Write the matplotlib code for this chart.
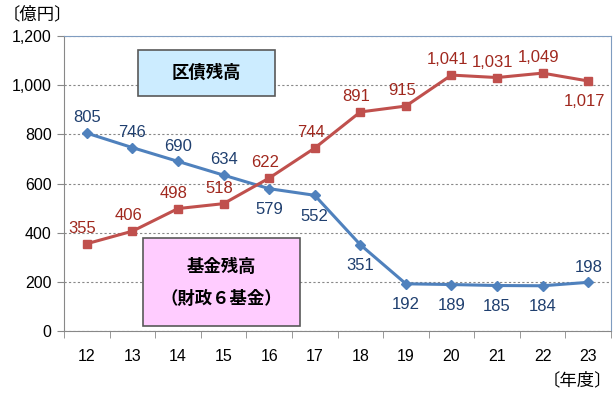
import matplotlib.pyplot as plt
from matplotlib.patches import Rectangle

plt.rcParams['font.family'] = ['Liberation Sans', 'Noto Sans CJK JP', 'DejaVu Sans']

years = ['12', '13', '14', '15', '16', '17', '18', '19', '20', '21', '22', '23']
kikin = [805, 746, 690, 634, 579, 552, 351, 192, 189, 185, 184, 198]
kusai = [355, 406, 498, 518, 622, 744, 891, 915, 1041, 1031, 1049, 1017]

# label placement: +1 above, -1 below
kikin_pos = [1, 1, 1, 1, -1, -1, -1, -1, -1, -1, -1, 1]
kusai_pos = [1, 1, 1, 1, 1, 1, 1, 1, 1, 1, 1, -1]

blue = '#4F81BD'
red = '#C0504D'
blue_txt = '#1F3F6F'
red_txt = '#A0281E'

fig = plt.figure(figsize=(6.16, 3.94), dpi=100)
ax = fig.add_axes([64 / 616, 1 - 331 / 394, 547 / 616, 295 / 394])

x = list(range(len(years)))
ax.plot(x, kikin, color=blue, lw=2.2, marker='D', ms=5, zorder=3)
ax.plot(x, kusai, color=red, lw=2.2, marker='s', ms=6, zorder=3)

for i in x:
    dy = 11 if kikin_pos[i] > 0 else -15
    ax.annotate(f'{kikin[i]:,}', (i, kikin[i]), xytext=(0, dy), textcoords='offset points',
                ha='center', va='center', fontsize=12, color=blue_txt)
    dy = 11 if kusai_pos[i] > 0 else -15
    ax.annotate(f'{kusai[i]:,}', (i, kusai[i]), xytext=(-3, dy), textcoords='offset points',
                ha='center', va='center', fontsize=12, color=red_txt)

ax.set_xlim(-0.5, len(years) - 0.5)
ax.set_ylim(0, 1200)
ax.set_yticks(range(0, 1201, 200))
ax.set_yticklabels([f'{v:,}' for v in range(0, 1201, 200)], fontsize=11.5)
ax.set_xticks(x)
ax.set_xticklabels(years, fontsize=11.5)
ax.set_xticks([i - 0.5 for i in range(len(years) + 1)], minor=True)
ax.tick_params(axis='x', which='major', length=0, pad=13)
ax.tick_params(axis='x', which='minor', length=5, color='#888888', direction='out')
ax.tick_params(axis='y', length=5, color='#888888', pad=4)
ax.grid(axis='y', color='#888888', ls=(0, (2, 2)), lw=0.8)
for s in ['left', 'bottom']:
    ax.spines[s].set_color('#888888')
for s in ['top', 'right']:
    ax.spines[s].set_color('#7F9CC0')

# boxed series titles
ax.add_patch(Rectangle((1.12, 956), 3.0, 187, facecolor='#CCECFF', edgecolor='#595959',
                       lw=1.2, zorder=4))
ax.text(2.62, 1049, '区債残高', ha='center', va='center', fontsize=12.5, fontweight='bold',
        family=['Noto Sans CJK JP'], zorder=5)
ax.add_patch(Rectangle((1.23, 20), 3.45, 358, facecolor='#FFCCFF', edgecolor='#595959',
                       lw=1.2, zorder=4))
ax.text(2.95, 260, '基金残高', ha='center', va='center', fontsize=12.5, fontweight='bold',
        family=['Noto Sans CJK JP'], zorder=5)
ax.text(2.95, 130, '（財政６基金）', ha='center', va='center', fontsize=12.5, fontweight='bold',
        family=['Noto Sans CJK JP'], zorder=5)

fig.text(3 / 616, 1 - 14 / 394, '〔億円〕', ha='left', va='center', fontsize=12.5,
         family=['Noto Sans CJK JP'])
fig.text(612 / 616, 1 - 380 / 394, '〔年度〕', ha='right', va='center', fontsize=12.5,
         family=['Noto Sans CJK JP'])

fig.savefig('out.png', dpi=100)
